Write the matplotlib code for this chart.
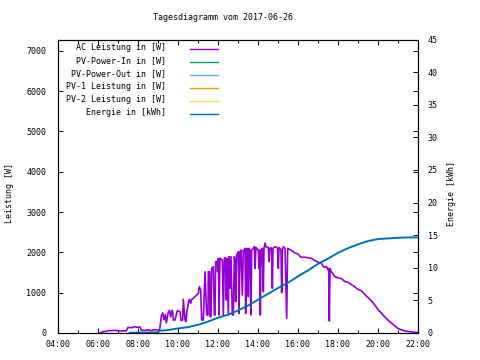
import matplotlib
matplotlib.use("Agg")
import matplotlib.pyplot as plt
from matplotlib.lines import Line2D
import numpy as np

# ---------------- data ----------------
ac_times = ["06:08","06:15","06:25","06:32","06:40","06:48","07:00","07:08","07:18","07:25",
            "07:30","07:40","07:50","08:00","08:06","08:10","08:20","08:30","08:40","08:50",
            "09:00","09:05","09:10","09:14","09:18","09:22","09:25","09:30","09:34","09:38",
            "09:42","09:44","09:46","09:51","09:58","10:06","10:09","10:14","10:16","10:21",
            "10:24","10:26","10:31","10:34","10:38","10:41","10:46","10:51","10:56","11:01",
            "11:04","11:08","11:11","11:16","11:21","11:26","11:30","11:31","11:35","11:36",
            "11:39","11:41","11:46","11:49","11:51","11:53","11:57","11:59","12:01","12:03",
            "12:06","12:13","12:16","12:19","12:23","12:25","12:27","12:31","12:33","12:36",
            "12:39","12:43","12:46","12:49","12:51","12:53","12:56","13:01","13:03","13:06",
            "13:09","13:13","13:16","13:19","13:21","13:23","13:26","13:29","13:31","13:33",
            "13:36","13:38","13:39","13:41","13:46","13:49","13:51","13:54","13:56","14:01",
            "14:03","14:05","14:07","14:09","14:13","14:16","14:18","14:21","14:24","14:27",
            "14:31","14:33","14:36","14:39","14:41","14:43","14:45","14:51","14:56","14:59",
            "15:01","15:03","15:06","15:09","15:11","15:13","15:16","15:21","15:26","15:29",
            "15:33","15:40","15:50","16:00","16:05","16:10","16:20","16:30","16:40","16:50",
            "17:00","17:10","17:15","17:20","17:25","17:30","17:32","17:34","17:36","17:40",
            "17:45","17:50","18:00","18:10","18:20","18:30","18:40","18:50","19:00","19:10",
            "19:20","19:30","19:40","19:50","20:00","20:10","20:20","20:30","20:40","20:50",
            "21:00","21:10","21:20","21:30","21:40","21:50","22:00"]
ac_watts = [10, 35, 40, 60, 55, 65, 60, 50, 55, 50,
            140, 130, 155, 140, 150, 70, 65, 80, 60, 85,
            70, 80, 420, 500, 330, 460, 250, 490, 560, 400,
            560, 529, 322, 322, 554, 529, 306, 322, 835, 322,
            281, 488, 736, 835, 736, 835, 860, 900, 942, 984,
            1150, 1067, 322, 322, 1520, 446, 446, 1520, 1520, 405,
            405, 1604, 1645, 446, 446, 1770, 1770, 1520, 1852, 446,
            1852, 1810, 446, 1868, 1852, 818, 1852, 446, 1893, 1108,
            1893, 446, 446, 1893, 1810, 777, 1935, 2017, 487, 2017,
            2058, 942, 2058, 1976, 2100, 487, 2100, 2058, 901, 2100,
            2058, 777, 446, 2058, 2100, 2141, 1604, 2120, 2100, 2058,
            1604, 2058, 446, 2058, 2100, 1025, 2100, 2230, 2141, 2120,
            2130, 1770, 2100, 2120, 2058, 1108, 2100, 2141, 2120, 2100,
            1604, 2120, 2100, 2058, 1000, 2058, 2141, 2100, 364, 2100,
            2080, 2050, 1990, 1960, 1910, 1880, 1880, 1870, 1850, 1800,
            1760, 1740, 1660, 1630, 1650, 1570, 1600, 300, 1600, 1520,
            1470, 1400, 1370, 1350, 1280, 1260, 1200, 1150, 1080, 1050,
            960, 880, 800, 700, 580, 500, 400, 320, 250, 180,
            110, 80, 50, 40, 30, 20, 10]

en_times = ["07:35","09:00","09:05","09:30","10:00","10:30","11:00","11:30","12:00","12:30",
            "13:00","13:30","14:00","14:30","15:00","15:30","16:00","16:30","17:00","17:30",
            "18:00","18:30","19:00","19:30","20:00","20:30","21:00","21:30","22:00"]
en_kwh = [0.05, 0.1, 0.35, 0.45, 0.7, 0.9, 1.25, 1.75, 2.35, 2.8,
          3.45, 4.2, 5.1, 6.0, 6.9, 7.7, 8.7, 9.6, 10.6, 11.4,
          12.3, 13.0, 13.6, 14.1, 14.4, 14.5, 14.6, 14.65, 14.65]

legend_labels = ["AC Leistung in [W]", "PV-Power-In in [W]", "PV-Power-Out in [W]",
                 "PV-1 Leistung in [W]", "PV-2 Leistung in [W]", "Energie in [kWh]"]
legend_colors = ["#9400d3", "#009e73", "#56b4e9", "#e69f00", "#f0e442", "#0072b2"]

title = "Tagesdiagramm vom 2017-06-26"
x_ticks = list(range(4, 23, 2))
x_ticklabels = ["%02d:00" % h for h in x_ticks]
y_ticks = list(range(0, 7001, 1000))
y2_ticks = list(range(0, 46, 5))


def to_hours(ts):
    return np.array([int(t[:2]) + int(t[3:]) / 60.0 for t in ts])


FONT = "DejaVu Sans Mono"
FS = 6

fig = plt.figure(figsize=(4.8, 3.6), dpi=100)
ax = fig.add_axes([58 / 480, 27 / 360, 360 / 480, 293.5 / 360])
ax2 = ax.twinx()

ax.plot(to_hours(ac_times), ac_watts, color=legend_colors[0], lw=1.2)
ax2.plot(to_hours(en_times), en_kwh, color=legend_colors[5], lw=1.4)

ax.set_xlim(4, 22)
ax.set_ylim(0, 7282)
ax2.set_ylim(0, 45)

ax.set_xticks(x_ticks)
ax.set_xticklabels(x_ticklabels, fontfamily=FONT, fontsize=FS)
ax.set_xticks(list(range(4, 23)), minor=True)
ax.set_yticks(y_ticks)
ax.set_yticklabels([str(v) for v in y_ticks], fontfamily=FONT, fontsize=FS)
ax2.set_yticks(y2_ticks)
ax2.set_yticklabels([str(v) for v in y2_ticks], fontfamily=FONT, fontsize=FS)

ax.tick_params(axis="x", which="both", direction="in", top=True, bottom=True, pad=5,
               width=0.7)
ax.tick_params(axis="x", which="major", length=3.5)
ax.tick_params(axis="x", which="minor", length=2)
ax.tick_params(axis="y", direction="in", left=True, right=True, length=3.5, width=0.7,
               pad=8.5)
ax2.tick_params(axis="y", direction="in", right=True, left=False, length=3.5, width=0.7,
                pad=7)
ax2.yaxis.set_label_position("right")

for a in (ax, ax2):
    for s in a.spines.values():
        s.set_linewidth(0.8)
        s.set_color("black")

fig.text(223 / 480, 1 - 18 / 360, title, ha="center", va="center",
         fontfamily=FONT, fontsize=FS)
fig.text(10 / 480, 1 - 193 / 360, "Leistung [W]", rotation=90, ha="center", va="center",
         fontfamily=FONT, fontsize=FS)
fig.text(452 / 480, 1 - 193 / 360, "Energie [kWh]", rotation=90, ha="center", va="center",
         fontfamily=FONT, fontsize=FS)

# legend in gnuplot style (right-aligned text, sample line to the right)
row_y0 = 49.3
row_dy = 13.0
for i, (lab, col) in enumerate(zip(legend_labels, legend_colors)):
    yy = 1 - (row_y0 + i * row_dy) / 360
    fig.text(166 / 480, yy + 1.5 / 360, lab, ha="right", va="center",
             fontfamily=FONT, fontsize=FS)
    fig.add_artist(Line2D([190 / 480, 218 / 480], [yy, yy], color=col, lw=1.0,
                          transform=fig.transFigure))

fig.savefig("out.png", dpi=100)
